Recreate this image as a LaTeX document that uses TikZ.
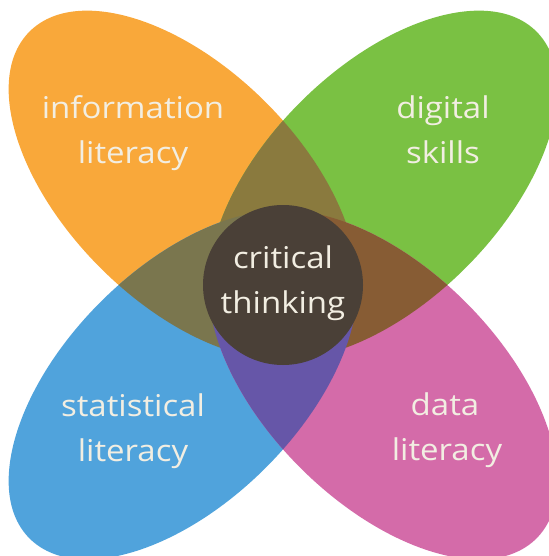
\documentclass[tikz,border=0pt]{standalone}
\usepackage{fontspec}
\setmainfont{Open Sans}[FakeStretch=1.1]
\definecolor{petOrange}{RGB}{249,168,58}
\definecolor{petGreen}{RGB}{122,193,67}
\definecolor{petBlue}{RGB}{80,163,220}
\definecolor{petPink}{RGB}{212,107,169}
\definecolor{mixOG}{RGB}{138,122,62}
\definecolor{mixOB}{RGB}{122,118,78}
\definecolor{mixGP}{RGB}{135,92,52}
\definecolor{mixBP}{RGB}{102,86,168}
\definecolor{hubFill}{RGB}{74,64,55}
\definecolor{labelInk}{RGB}{242,238,226}
\begin{document}
\begin{tikzpicture}[x=1pt,y=-1pt,
  petal/.style={x radius=217pt,y radius=117pt},
  lbl/.style={anchor=base,inner sep=0pt,text=labelInk,
    font=\fontsize{30}{44}\selectfont}]
\useasboundingbox (0,0) rectangle (548,556);
% the four petals
\def\orangepetal{(183,185) ellipse [petal,rotate=-45]}
\def\greenpetal{(383,185) ellipse [petal,rotate=45]}
\def\bluepetal{(183,385) ellipse [petal,rotate=45]}
\def\pinkpetal{(383,385) ellipse [petal,rotate=-45]}
\fill[petOrange] \orangepetal;
\fill[petGreen] \greenpetal;
\fill[petBlue] \bluepetal;
\fill[petPink] \pinkpetal;
% pairwise overlaps
\begin{scope}\clip \orangepetal; \fill[mixOG] \greenpetal; \end{scope}
\begin{scope}\clip \orangepetal; \fill[mixOB] \bluepetal; \end{scope}
\begin{scope}\clip \pinkpetal; \fill[mixGP] \greenpetal; \end{scope}
\begin{scope}\clip \pinkpetal; \fill[mixBP] \bluepetal; \end{scope}
% central hub
\node[circle,fill=hubFill,minimum size=160pt,inner sep=0pt] (hub) at (283,285) {};
% labels
\node[lbl] (info1) at (133,119) {information};
\node[lbl] (info2) at (133,164) {literacy};
\node[lbl] (dig1) at (443,119) {digital};
\node[lbl] (dig2) at (443,164) {skills};
\node[lbl] (crit1) at (283,268) {critical};
\node[lbl] (crit2) at (283,313) {thinking};
\node[lbl] (stat1) at (133,416) {statistical};
\node[lbl] (stat2) at (133,461) {literacy};
\node[lbl] (data1) at (445,415) {data};
\node[lbl] (data2) at (447,460) {literacy};
\end{tikzpicture}
\end{document}
